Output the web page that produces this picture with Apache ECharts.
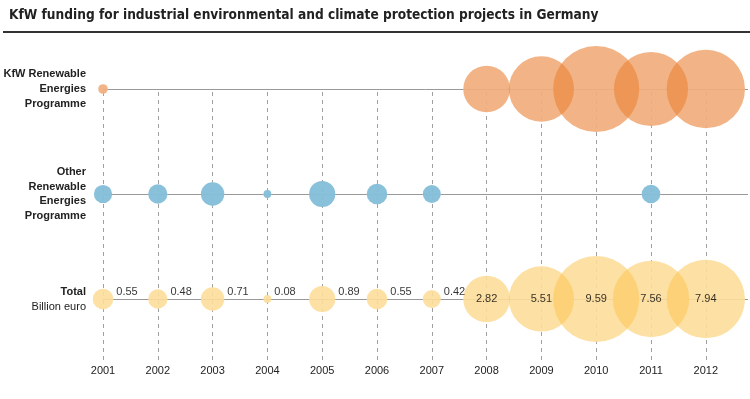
<!DOCTYPE html>
<html>
<head>
<meta charset="utf-8">
<style>html,body{margin:0;padding:0;background:#fff}#c{width:750px;height:399px}</style>
<script src="https://cdn.jsdelivr.net/npm/echarts@6/dist/echarts.min.js"></script>
</head>
<body>
<div id="c"></div>
<script>
// Data (billion euro)
const years = [2001, 2002, 2003, 2004, 2005, 2006, 2007, 2008, 2009, 2010, 2011, 2012];
const kfwRenewable = [0.12, null, null, null, null, null, null, 2.82, 5.51, 9.59, 7.11, 7.94];
const otherRenewable = [0.43, 0.48, 0.71, 0.08, 0.89, 0.55, 0.42, null, null, null, 0.45, null];
const totalFunding = [0.55, 0.48, 0.71, 0.08, 0.89, 0.55, 0.42, 2.82, 5.51, 9.59, 7.56, 7.94];
const rowNames = ['Total', 'Other', 'KfW'];

const chart = echarts.init(document.getElementById('c'));
const sizeOf = v => 27.8 * Math.sqrt(v);
const toPoints = (arr, row) => arr.map((v, i) => v == null ? null : [years[i], row, v]).filter(Boolean);

const lbl = {fontSize: 11, color: '#000', fontFamily: 'Liberation Sans', textBorderWidth: 0};
const totalPoints = totalFunding.map((v, i) => ({
  value: [years[i], 0, v],
  label: v < 1
    ? Object.assign({show: true, position: 'right', distance: 3, offset: [0, -7], formatter: v.toFixed(2)}, lbl)
    : Object.assign({show: true, position: 'inside', formatter: v.toFixed(2)}, lbl)
}));

// white discs under every bubble so that the grid lines do not show through
const underlay = [...toPoints(kfwRenewable, 2), ...toPoints(otherRenewable, 1), ...toPoints(totalFunding, 0)];

chart.setOption({
  animation: false,
  title: {
    text: 'KfW funding for industrial environmental and climate protection projects in Germany',
    left: 4, top: 3,
    textStyle: {fontFamily: 'DejaVu Sans Condensed', fontWeight: 'bold', fontSize: 13.6, color: '#222'}
  },
  graphic: [
    {type: 'rect', shape: {x: 3, y: 31, width: 747, height: 2}, style: {fill: '#333'}, silent: true},
    {type: 'text', x: 86, y: 89, style: {text: 'KfW Renewable\nEnergies\nProgramme', align: 'right', verticalAlign: 'middle', font: 'bold 11px "Liberation Sans"', lineHeight: 15, fill: '#222'}},
    {type: 'text', x: 86, y: 194, style: {text: 'Other\nRenewable\nEnergies\nProgramme', align: 'right', verticalAlign: 'middle', font: 'bold 11px "Liberation Sans"', lineHeight: 14.6, fill: '#222'}},
    {type: 'text', x: 86, y: 292, style: {text: 'Total', align: 'right', verticalAlign: 'middle', font: 'bold 11px "Liberation Sans"', fill: '#222'}},
    {type: 'text', x: 86, y: 306.5, style: {text: 'Billion euro', align: 'right', verticalAlign: 'middle', font: '11px "Liberation Sans"', fill: '#222'}}
  ],
  grid: {left: 103, right: 2, top: 89, bottom: 39},
  xAxis: {
    type: 'value', min: 2001, max: 2012.77, interval: 1,
    axisLine: {show: false}, axisTick: {show: false}, splitLine: {show: false},
    axisLabel: {margin: 5, fontSize: 11, color: '#222', fontFamily: 'Liberation Sans',
      formatter: v => Number.isInteger(v) ? String(v) : '', showMaxLabel: false}
  },
  yAxis: {
    type: 'value', min: -0.581, max: 2, show: false
  },
  series: [
    {
      type: 'scatter', data: [], zlevel: 0, z: 1, silent: true,
      markLine: {
        zlevel: 0, z: 1, silent: true, symbol: 'none', label: {show: false}, animation: false,
        data: [
          ...years.map(y => ({xAxis: y, lineStyle: {type: [4, 4], color: '#a0a0a0', width: 1}})),
          ...rowNames.map((n, i) => ({yAxis: i, lineStyle: {type: 'solid', color: '#999', width: 1}}))
        ]
      }
    },
    {
      type: 'scatter', zlevel: 1, z: 2, clip: false, silent: true,
      data: underlay, symbolSize: d => sizeOf(d[2]),
      itemStyle: {color: '#fff'}, emphasis: {disabled: true}
    },
    {
      name: 'KfW Renewable Energies Programme', type: 'scatter', zlevel: 1, z: 3, clip: false,
      data: toPoints(kfwRenewable, 2), symbolSize: d => sizeOf(d[2]),
      itemStyle: {color: 'rgba(234,130,53,0.75)'}, emphasis: {disabled: true}
    },
    {
      name: 'Other Renewable Energies Programme', type: 'scatter', zlevel: 1, z: 3, clip: false,
      data: toPoints(otherRenewable, 1), symbolSize: d => sizeOf(d[2]),
      itemStyle: {color: '#6BB0D1'}, emphasis: {disabled: true}
    },
    {
      name: 'Total', type: 'scatter', zlevel: 1, z: 3, clip: false,
      data: totalPoints, symbolSize: d => sizeOf(d[2]),
      itemStyle: {color: 'rgba(251,196,80,0.65)'}, emphasis: {disabled: true}
    }
  ]
});
</script>
</body>
</html>
